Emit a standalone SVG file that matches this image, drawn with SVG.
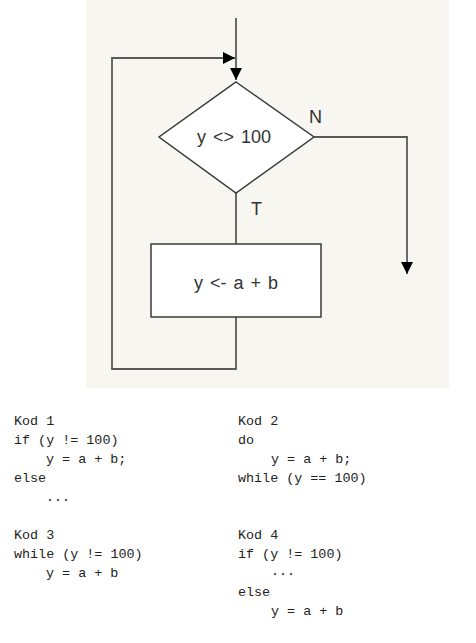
<svg xmlns="http://www.w3.org/2000/svg" width="476" height="643" viewBox="0 0 476 643">
<style>
.bg{fill:#f8f6f0}
.shape{fill:#ffffff;stroke:#3a3a3a;stroke-width:1.5}
.conn{fill:none;stroke:#5a5a5a;stroke-width:1.8}
.lbl{font-family:"Liberation Sans",Arial,sans-serif;font-size:18px;fill:#333333}
.wide{word-spacing:2px}
.code{font-family:"Liberation Mono","DejaVu Sans Mono",monospace;font-size:13.4px;fill:#222222;white-space:pre}
</style>
<defs>
<marker id="arr" viewBox="0 0 12 12" refX="12" refY="6" markerWidth="12" markerHeight="12" markerUnits="userSpaceOnUse" orient="auto">
<path d="M0,0 L12,6 L0,12 Z" fill="#000"/>
</marker>
</defs>
<rect class="bg" x="86" y="0" width="363" height="388"/>
<g id="connectors">
<path class="conn" d="M236,18 V80" marker-end="url(#arr)"/>
<path class="conn" d="M236,317 V369 H112 V58 H235" marker-end="url(#arr)"/>
<path class="conn" d="M236,193 V244"/>
<path class="conn" d="M314,137 H407 V274" marker-end="url(#arr)"/>
<text class="lbl" x="309" y="123">N</text>
<text class="lbl" x="251" y="215">T</text>
</g>
<g id="decision">
<polygon class="shape" points="236,82 314,137 236,193 159,137"/>
<text class="lbl wide" x="234" y="143" text-anchor="middle">y &lt;&gt; 100</text>
</g>
<g id="process">
<rect class="shape" x="151" y="244" width="170" height="73"/>
<text class="lbl wide" x="236" y="289" text-anchor="middle">y &lt;- a + b</text>
</g>
<g id="kod1">
<text class="code" x="14" y="425">Kod 1</text>
<text class="code" x="14" y="444">if (y != 100)</text>
<text class="code" x="46" y="463">y = a + b;</text>
<text class="code" x="14" y="482">else</text>
<text class="code" x="46" y="501">...</text>
</g>
<g id="kod2">
<text class="code" x="238" y="425">Kod 2</text>
<text class="code" x="238" y="444">do</text>
<text class="code" x="271" y="463">y = a + b;</text>
<text class="code" x="238" y="482">while (y == 100)</text>
</g>
<g id="kod3">
<text class="code" x="14" y="539">Kod 3</text>
<text class="code" x="14" y="558">while (y != 100)</text>
<text class="code" x="46" y="577">y = a + b</text>
</g>
<g id="kod4">
<text class="code" x="238" y="539">Kod 4</text>
<text class="code" x="238" y="558">if (y != 100)</text>
<text class="code" x="271" y="575">...</text>
<text class="code" x="238" y="596">else</text>
<text class="code" x="271" y="615">y = a + b</text>
</g>
</svg>
